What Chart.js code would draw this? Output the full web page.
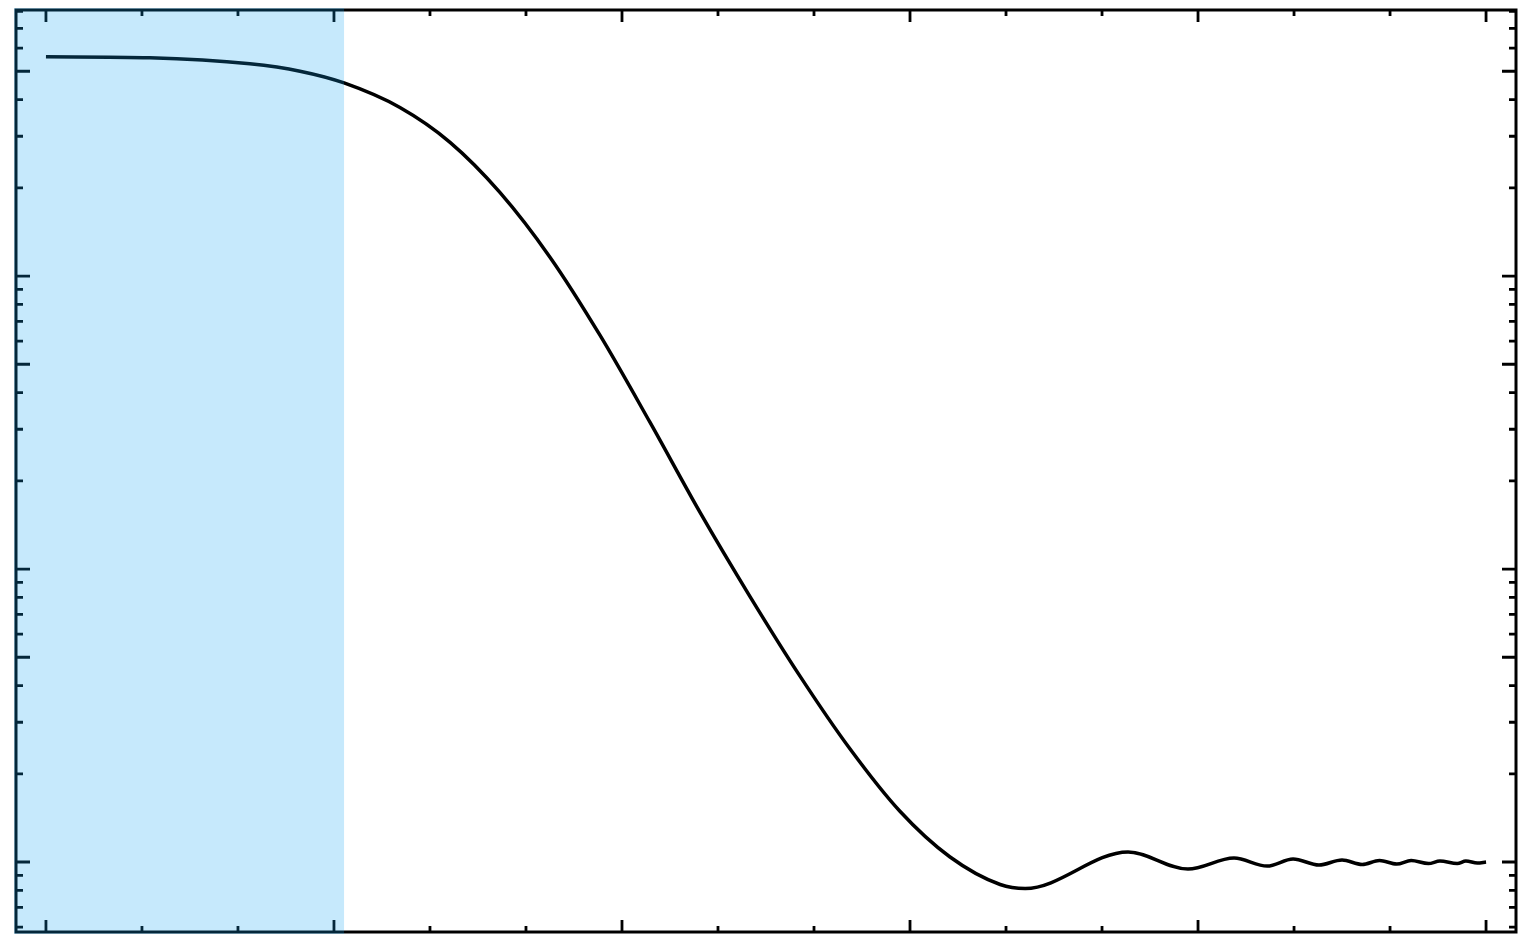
<!DOCTYPE html>
<html>
<head>
<meta charset="utf-8">
<script src="https://cdn.jsdelivr.net/npm/chart.js@4"></script>
<style>
  html, body { margin: 0; padding: 0; background: #fff; }
  #wrap { width: 1527px; height: 935px; }
</style>
</head>
<body>
<div id="wrap"><canvas id="myChart"></canvas></div>
<script>
// curve
const xs = [0, 0.361, 0.708, 0.882, 1.035, 1.229, 1.403, 1.576, 1.750, 1.924, 2.097, 2.271, 2.444, 2.618,
            2.792, 2.965, 3.139, 3.313, 3.40,
            3.757, 3.965, 4.125, 4.24, 4.33, 4.42, 4.50, 4.57, 4.63, 4.69, 4.74, 4.80, 4.84, 4.90, 4.93, 4.97, 5.0];
const ys = [560, 556, 530, 500, 456, 376, 286, 193, 116, 62.7, 31.7, 15.6, 8.07, 4.31,
            2.43, 1.49, 1.04, 0.838, 0.812,
            1.082, 0.946, 1.032, 0.969, 1.024, 0.977, 1.016, 0.981, 1.012, 0.984, 1.012, 0.988, 1.008, 0.988, 1.008, 0.992, 1.0];

// axis ticks (no labels in the picture)
const xMajorTicks = [0, 1, 2, 3, 4, 5];
const xMinorTicks = [1/3, 2/3, 4/3, 5/3, 7/3, 8/3, 10/3, 11/3, 13/3, 14/3];
const yMajorTicks = [1, 5, 10, 50, 100, 500];
const yMinorTicks = [0.6, 0.7, 0.8, 0.9, 2, 3, 4, 6, 7, 8, 9, 20, 30, 40, 60, 70, 80, 90, 200, 300, 400, 600, 700, 800];

// shaded band
const bandFrom = -0.104;
const bandTo = 1.035;

const framePlugin = {
  id: 'frame',
  afterDraw(chart) {
    const ctx = chart.ctx;
    const a = chart.chartArea;
    const sx = chart.scales.x, sy = chart.scales.y;
    ctx.save();
    ctx.strokeStyle = '#000';
    ctx.lineWidth = 2.8;
    ctx.beginPath();
    xMajorTicks.forEach(v => {
      const p = sx.getPixelForValue(v);
      ctx.moveTo(p, a.bottom); ctx.lineTo(p, a.bottom - 12);
      ctx.moveTo(p, a.top); ctx.lineTo(p, a.top + 12);
    });
    xMinorTicks.forEach(v => {
      const p = sx.getPixelForValue(v);
      ctx.moveTo(p, a.bottom); ctx.lineTo(p, a.bottom - 6);
      ctx.moveTo(p, a.top); ctx.lineTo(p, a.top + 6);
    });
    yMajorTicks.forEach(v => {
      const p = sy.getPixelForValue(v);
      ctx.moveTo(a.left, p); ctx.lineTo(a.left + 14, p);
      ctx.moveTo(a.right, p); ctx.lineTo(a.right - 14, p);
    });
    yMinorTicks.forEach(v => {
      const p = sy.getPixelForValue(v);
      ctx.moveTo(a.left, p); ctx.lineTo(a.left + 7, p);
      ctx.moveTo(a.right, p); ctx.lineTo(a.right - 7, p);
    });
    ctx.stroke();
    ctx.lineWidth = 3;
    ctx.strokeRect(a.left, a.top, a.right - a.left, a.bottom - a.top);

    // translucent blue band on top of everything
    const b0 = sx.getPixelForValue(bandFrom) - 2;
    const b1 = sx.getPixelForValue(bandTo);
    ctx.fillStyle = 'rgba(18,163,242,0.24)';
    ctx.fillRect(b0, a.top - 2, b1 - b0, a.bottom - a.top + 4);
    ctx.restore();
  }
};

const ctx = document.getElementById('myChart').getContext('2d');
const myChart = new Chart(ctx, {
  type: 'line',
  data: {
    datasets: [{
      data: xs.map((x, i) => ({ x: x, y: ys[i] })),
      borderColor: '#000',
      borderWidth: 3.5,
      pointRadius: 0,
      cubicInterpolationMode: 'monotone',
      fill: false
    }]
  },
  options: {
    responsive: true,
    maintainAspectRatio: false,
    animation: false,
    layout: { padding: { left: 16, right: 11, top: 10, bottom: 3 } },
    plugins: { legend: { display: false }, tooltip: { enabled: false } },
    scales: {
      x: { type: 'linear', min: -0.104, max: 5.104, display: false },
      y: { type: 'logarithmic', min: 0.577, max: 809, display: false }
    }
  },
  plugins: [framePlugin]
});
</script>
</body>
</html>
